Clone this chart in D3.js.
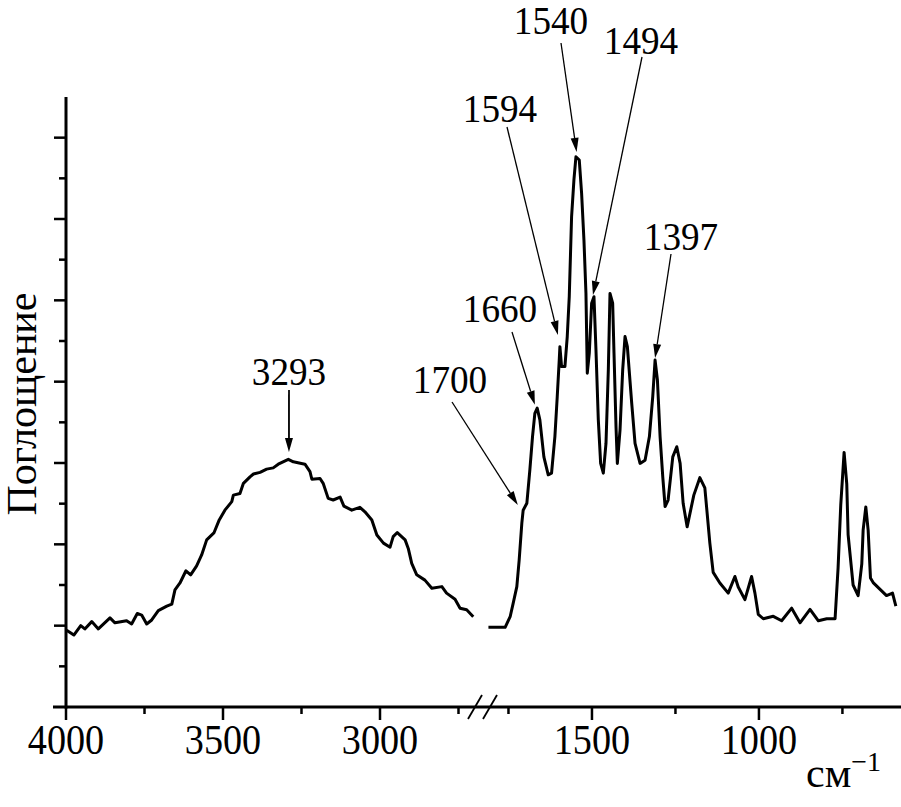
<!DOCTYPE html>
<html><head><meta charset="utf-8">
<script src="https://cdn.jsdelivr.net/npm/d3@7"></script>
<style>
body{margin:0;background:#fff}
svg{display:block}
svg, svg text, svg tspan { font-family: "Liberation Serif", "Times New Roman", Tinos, serif !important; }
</style>
</head><body>
<script>
// ---- data ----
const leftWn = [3998,3975,3953,3940,3918,3897,3860,3844,3807,3791,3773,3759,3743,3727,3706,3679,3663,3653,3637,3618,3603,3584,3568,3552,3529,3512,3494,3472,3467,3446,3435,3414,3403,3382,3361,3340,3324,3292,3276,3239,3223,3217,3191,3181,3165,3149,3127,3115,3090,3064,3048,3026,3010,2989,2968,2958,2945,2920,2910,2899,2883,2857,2835,2803,2788,2761,2745,2724,2703];
const leftAbs = [1.89,1.77,2.00,1.92,2.10,1.92,2.19,2.07,2.12,2.04,2.30,2.26,2.04,2.14,2.37,2.48,2.53,2.88,3.05,3.35,3.25,3.47,3.74,4.11,4.28,4.60,4.84,5.05,5.21,5.25,5.50,5.66,5.73,5.77,5.85,5.88,5.97,6.09,6.03,5.97,5.79,5.60,5.62,5.50,5.13,5.09,5.16,4.94,4.84,4.91,4.80,4.60,4.23,4.03,3.93,4.19,4.29,4.11,3.90,3.53,3.25,3.12,2.92,2.96,2.80,2.65,2.43,2.39,2.22];
const rightWn = [1810,1760,1745,1736,1725,1718,1710,1706,1695,1686,1678,1671,1664,1656,1644,1631,1621,1611,1604,1598,1596,1591,1581,1574,1568,1561,1554,1548,1538,1531,1524,1518,1514,1508,1501,1494,1488,1481,1474,1466,1458,1451,1446,1438,1434,1428,1424,1416,1408,1401,1394,1381,1371,1356,1341,1328,1318,1311,1304,1296,1288,1281,1272,1258,1246,1236,1227,1215,1195,1177,1162,1147,1137,1117,1092,1072,1062,1042,1022,1012,1002,987,957,932,902,877,847,822,797,772,763,755,745,737,733,718,703,692,688,680,673,666,658,638,618,600,590];
const rightAbs = [1.96,1.96,2.22,2.55,2.96,3.61,4.52,4.84,5.01,5.83,6.65,7.22,7.35,7.06,6.15,5.71,5.75,6.65,7.63,8.53,8.86,8.37,8.37,9.11,10.09,12.06,12.96,13.53,13.45,12.63,11.48,10.17,8.21,8.70,9.93,10.09,8.78,7.06,5.99,5.75,6.48,8.29,10.17,9.93,8.70,6.89,5.99,6.81,8.29,9.11,8.86,7.47,6.48,5.99,6.07,6.65,7.63,8.53,8.04,6.65,5.66,4.93,5.09,6.15,6.40,5.99,5.01,4.43,5.21,5.64,5.39,4.03,3.31,3.05,2.80,3.21,2.95,2.64,3.21,2.80,2.28,2.17,2.23,2.12,2.43,2.07,2.40,2.12,2.17,2.17,3.42,4.97,6.26,5.48,4.24,3.00,2.74,3.52,4.35,4.92,4.35,3.17,3.06,2.90,2.74,2.80,2.48];
const leftTicksMajor = [4000,3500,3000];
const leftTicksMinor = [3750,3250,2750];
const rightTicksMajor = [1500,1000];
const rightTicksMinor = [1750,1250,750];
const yTicksMajor = [2,4,6,8,10,12,14];
const yTicksMinor = [1,3,5,7,9,11,13];
const annoLabels = ["3293","1700","1660","1594","1540","1494","1397"];
const annoSide   = ["L","R","R","R","R","R","R"];
const annoWn     = [3290,1722,1671,1602,1546,1497,1311];
const annoAbs    = [6.27,4.97,7.43,9.15,13.65,10.13,8.58];
const yTitle = "Поглощение";
const xUnit = "см";
const xUnitSup = "−1";

// ---- layout ----
const W = 901, H = 807;
const FONT = '"Liberation Serif", "Times New Roman", Tinos, serif';
const svg = d3.select("body").append("svg").attr("width", W).attr("height", H)
  .attr("font-family", FONT).style("font-family", FONT);
const xL = d3.scaleLinear().domain([4000, 2700]).range([66, 474.2]);
const xR = d3.scaleLinear().domain([1820, 580]).range([485.1, 899.2]);
const y = d3.scaleLinear().domain([0, 15]).range([707, 97]);

function txt(x, yy, s, size, sx, anchor) {
  return svg.append("text")
    .attr("transform", `translate(${x},${yy}) scale(${sx},1)`)
    .attr("text-anchor", anchor || "middle")
    .attr("font-family", FONT).style("font-family", FONT)
    .attr("font-size", size).attr("fill", "#000")
    .text(s);
}

// axes
svg.append("line").attr("x1", 66).attr("x2", 66).attr("y1", 97).attr("y2", 708.5)
  .attr("stroke", "#000").attr("stroke-width", 3);
svg.append("line").attr("x1", 53).attr("x2", 901).attr("y1", 707).attr("y2", 707)
  .attr("stroke", "#000").attr("stroke-width", 3);

// y ticks
yTicksMajor.forEach(v => svg.append("line").attr("x1", 54).attr("x2", 66)
  .attr("y1", y(v)).attr("y2", y(v)).attr("stroke", "#000").attr("stroke-width", 2.5));
yTicksMinor.forEach(v => svg.append("line").attr("x1", 59).attr("x2", 66)
  .attr("y1", y(v)).attr("y2", y(v)).attr("stroke", "#000").attr("stroke-width", 2.5));

// x ticks
function xtick(px, major) {
  svg.append("line").attr("x1", px).attr("x2", px).attr("y1", 707).attr("y2", major ? 720 : 714)
    .attr("stroke", "#000").attr("stroke-width", 2.5);
}
leftTicksMajor.forEach(v => { xtick(xL(v), true); txt(xL(v), 754, String(v), 42, 0.91); });
leftTicksMinor.forEach(v => xtick(xL(v), false));
rightTicksMajor.forEach(v => { xtick(xR(v), true); txt(xR(v), 754, String(v), 42, 0.91); });
rightTicksMinor.forEach(v => xtick(xR(v), false));

// axis break slashes
[[468,719,482,695],[483,719,497,695]].forEach(d =>
  svg.append("line").attr("x1", d[0]).attr("y1", d[1]).attr("x2", d[2]).attr("y2", d[3])
    .attr("stroke", "#000").attr("stroke-width", 1.8));

// curves
const leftData = leftWn.map((w, i) => [w, leftAbs[i]]);
const rightData = rightWn.map((w, i) => [w, rightAbs[i]]);
svg.append("path").datum(leftData)
  .attr("d", d3.line().x(d => xL(d[0])).y(d => y(d[1])))
  .attr("fill", "none").attr("stroke", "#000").attr("stroke-width", 3).attr("stroke-linejoin", "round");
svg.append("path").datum(rightData)
  .attr("d", d3.line().x(d => xR(d[0])).y(d => y(d[1])))
  .attr("fill", "none").attr("stroke", "#000").attr("stroke-width", 3).attr("stroke-linejoin", "round");

// annotations: label center x, baseline y, arrow start (layout)
const annoLayout = [
  {lx: 289, ly: 385, sx: 289, sy: 390},
  {lx: 450, ly: 393, sx: 452, sy: 402},
  {lx: 500, ly: 322, sx: 512, sy: 332},
  {lx: 500, ly: 122, sx: 507, sy: 127},
  {lx: 551, ly: 34,  sx: 561, sy: 43},
  {lx: 641, ly: 54,  sx: 642, sy: 57},
  {lx: 681, ly: 250, sx: 671, sy: 254}
];
annoLabels.forEach((lab, i) => {
  const L = annoLayout[i];
  const tx = (annoSide[i] === "L" ? xL : xR)(annoWn[i]);
  const ty = y(annoAbs[i]);
  txt(L.lx, L.ly, lab, 40, 0.93);
  const dx = tx - L.sx, dy = ty - L.sy, len = Math.hypot(dx, dy);
  const ux = dx / len, uy = dy / len;
  const hl = 14, hw = 4;
  const bx = tx - ux * hl, by = ty - uy * hl;
  svg.append("line").attr("x1", L.sx).attr("y1", L.sy).attr("x2", bx).attr("y2", by)
    .attr("stroke", "#000").attr("stroke-width", i === 0 ? 1.8 : 1.3);
  svg.append("path")
    .attr("d", `M${tx},${ty}L${bx - uy * hw},${by + ux * hw}L${bx + uy * hw},${by - ux * hw}Z`)
    .attr("fill", "#000");
});

// y title
svg.append("text").attr("transform", "translate(36,404) rotate(-90)")
  .attr("text-anchor", "middle").attr("font-family", FONT).style("font-family", FONT)
  .attr("font-size", 42).attr("fill", "#000").text(yTitle);

// x unit
const u = svg.append("text").attr("x", 806).attr("y", 787)
  .attr("font-family", FONT).style("font-family", FONT).attr("font-size", 42).attr("fill", "#000");
u.append("tspan").text(xUnit);
u.append("tspan").attr("font-size", 28).attr("dy", -16).text(xUnitSup);
</script>
</body></html>
